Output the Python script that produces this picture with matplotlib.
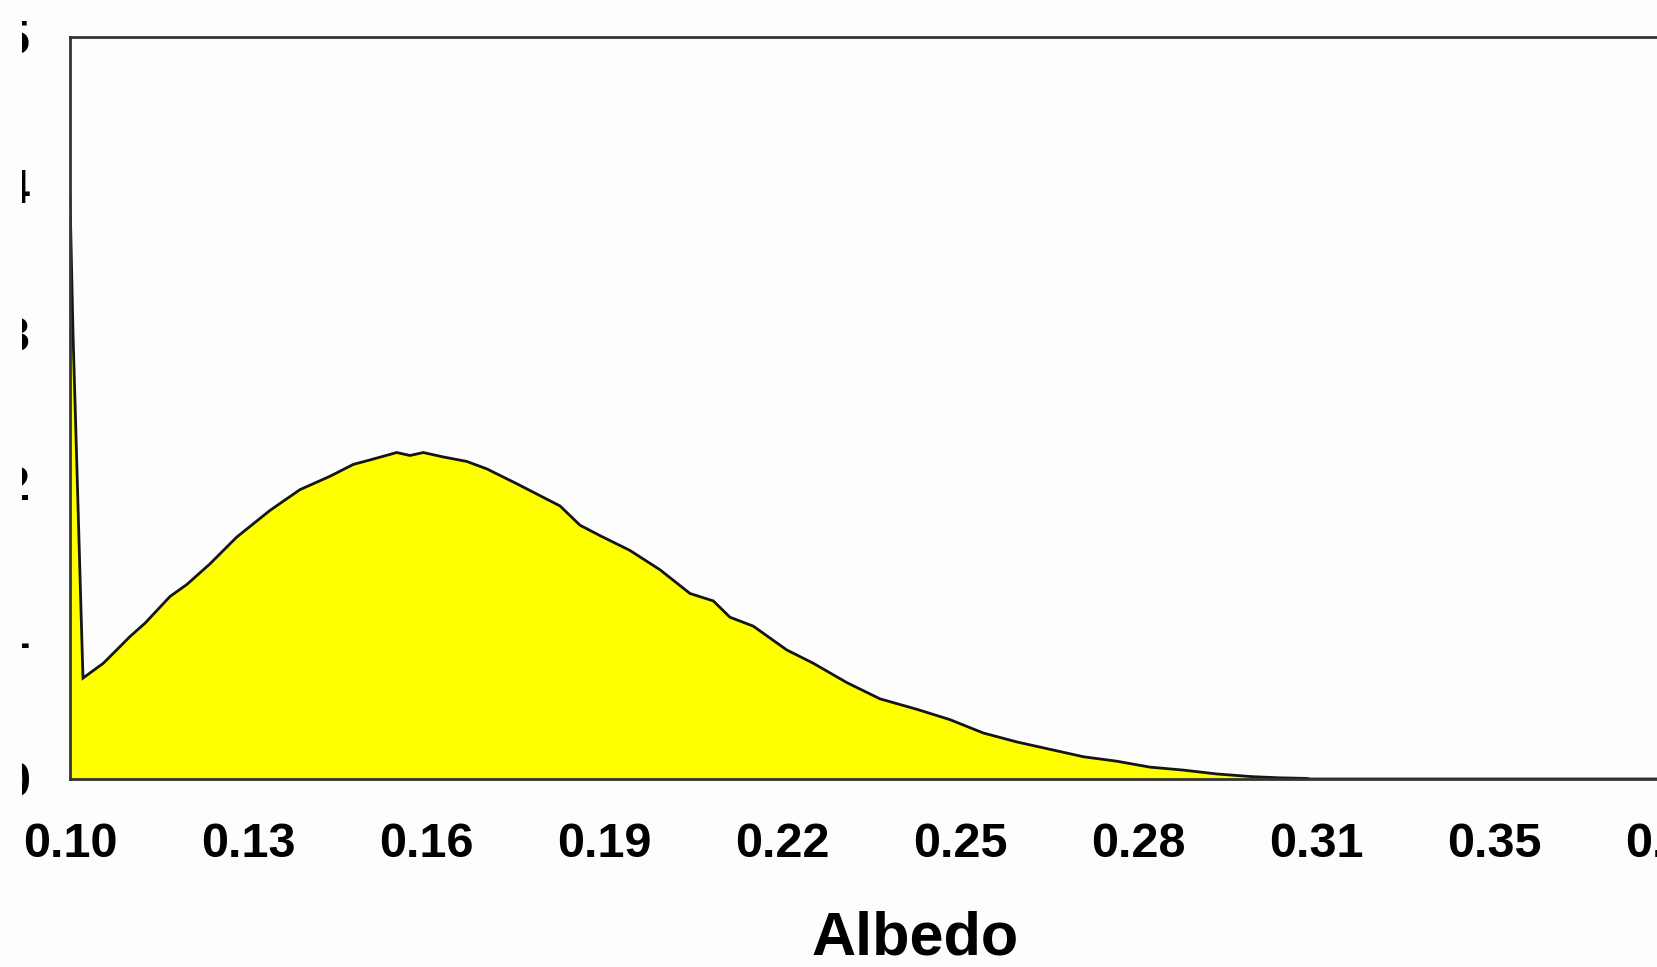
import matplotlib
matplotlib.use("Agg")
import matplotlib.pyplot as plt
from matplotlib.transforms import Bbox, TransformedBbox

# albedo distribution
albedo = [0.1000, 0.10053, 0.10123, 0.10193, 0.10228, 0.10585, 0.10820, 0.11053,
          0.11317, 0.11756, 0.12049, 0.12458, 0.12927, 0.13511, 0.14038, 0.14565,
          0.14974, 0.15267, 0.15736, 0.15969, 0.16203, 0.16554, 0.16965, 0.17316,
          0.17842, 0.18603, 0.18954, 0.19305, 0.19831, 0.20358, 0.20885, 0.21294,
          0.21587, 0.21996, 0.22582, 0.23049, 0.23636, 0.24221, 0.24865, 0.25449,
          0.26034, 0.26620, 0.27205, 0.27790, 0.28376, 0.28961, 0.29546, 0.30131,
          0.30746, 0.31230, 0.31717, 0.31770, 0.3900]
density = [3.92, 3.00, 2.08, 1.14, 0.68, 0.78, 0.87, 0.96,
           1.05, 1.23, 1.31, 1.45, 1.63, 1.81, 1.95, 2.04,
           2.12, 2.15, 2.20, 2.18, 2.20, 2.17, 2.14, 2.09,
           1.99, 1.84, 1.71, 1.64, 1.54, 1.41, 1.25, 1.20,
           1.09, 1.03, 0.87, 0.78, 0.65, 0.54, 0.47, 0.40,
           0.31, 0.25, 0.20, 0.15, 0.12, 0.08, 0.06, 0.034,
           0.016, 0.008, 0.004, 0.0, 0.0]

tick_step = 0.03125
tick_labels = ["0.10", "0.13", "0.16", "0.19", "0.22", "0.25", "0.28", "0.31", "0.35", "0.38"]
y_ticks = [0, 1, 2, 3, 4, 5]

W, H = 1658, 967
fig = plt.figure(figsize=(W / 100, H / 100), dpi=100, facecolor="#fdfdfd")
# plot area runs past the right edge of the picture, like the cropped original
x0, x1, y0, y1 = 70, 1700, 779, 37
ax = fig.add_axes([x0 / W, 1 - y0 / H, (x1 - x0) / W, (y0 - y1) / H])
ax.set_facecolor("#fdfdfd")

ax.fill_between(albedo, density, 0, color="#ffff00", linewidth=0)
ax.plot(albedo, density, color="#151515", lw=2.0, solid_joinstyle="miter")

px_per_unit = 178 / tick_step
ax.set_xlim(0.1, 0.1 + (x1 - x0) / px_per_unit)
ax.set_ylim(0, 5)

ax.set_xticks([0.1 + i * tick_step for i in range(len(tick_labels))])
ax.set_xticklabels(tick_labels)
ax.set_yticks(y_ticks)
ax.set_yticklabels([str(v) for v in y_ticks])

font = dict(family=["Liberation Sans", "DejaVu Sans"], weight="bold")
ax.tick_params(axis="both", length=0, labelsize=35, colors="black")
ax.tick_params(axis="x", pad=31)
ax.tick_params(axis="y", pad=29)
for lab in ax.get_xticklabels() + ax.get_yticklabels():
    lab.set_fontfamily(font["family"])
    lab.set_fontweight("bold")

# only a sliver of the y labels survives at the left edge
clip = TransformedBbox(Bbox.from_extents(22 / W, 0, 1, 1), fig.transFigure)
for lab in ax.get_yticklabels():
    lab.set_clip_on(True)
    lab.set_clip_box(clip)

ax.set_xlabel("Albedo", fontsize=44, **font)
ax.xaxis.set_label_coords((915 - x0) / (x1 - x0), -0.237)
ax.xaxis.label.set_va("baseline")

for side in ["left", "top", "bottom"]:
    ax.spines[side].set_color("#333333")
    ax.spines[side].set_linewidth(2.0)
ax.spines["right"].set_visible(False)

fig.savefig("out.png", dpi=100, facecolor=fig.get_facecolor())
